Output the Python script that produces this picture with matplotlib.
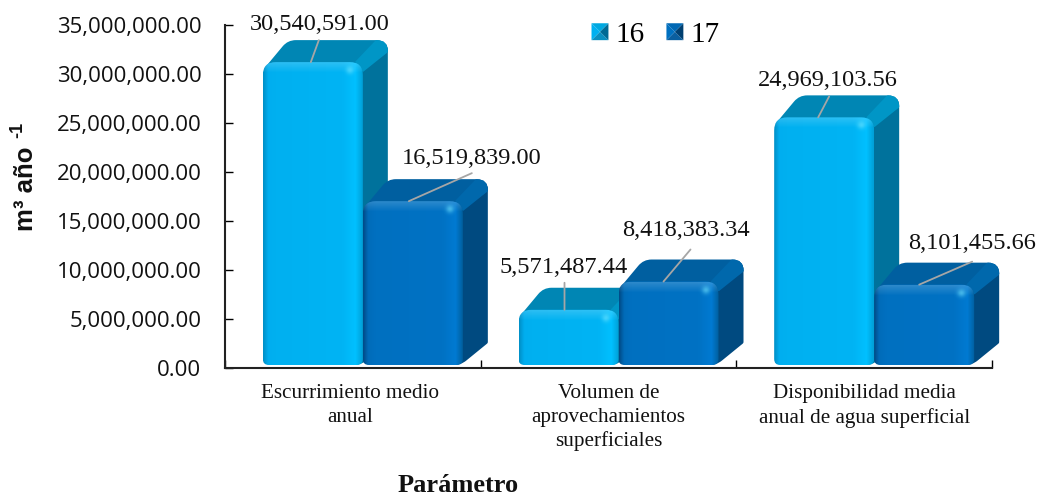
import numpy as np
import matplotlib
matplotlib.use("Agg")
import matplotlib.pyplot as plt
from matplotlib.colors import LinearSegmentedColormap
from matplotlib.legend_handler import HandlerBase
from matplotlib.patches import PathPatch, Patch, Polygon
from matplotlib.path import Path

# ========== data ==========
categories = ["Escurrimiento medio\nanual",
              "Volumen de\naprovechamientos\nsuperficiales",
              "Disponibilidad media\nanual de agua superficial"]
series_names = ["16", "17"]
values_16 = [30540591.00, 5571487.44, 24969103.56]
values_17 = [16519839.00, 8418383.34, 8101455.66]
yticks = np.arange(0, 35000001, 5000000)

# ========== styles ==========
W, H = 1040, 495
AX_L, AX_R, AX_T, AX_B = 225, 992, 25, 368
PX_X = 3 / (AX_R - AX_L)          # data units per pixel, x
PX_Y = 35000000 / (AX_B - AX_T)   # data units per pixel, y
DEPTH_X, DEPTH_Y = 25 * PX_X, 22 * PX_Y
BAR_W = 100 * PX_X
GROUP_OFF = 0.148
BASE = 3 * PX_Y
SCALE = 1.012

colors_16 = dict(front=["#0090c8", "#00aeef", "#00b0f0", "#00b4f4", "#00c0ff", "#00a0d8"],
                 top="#0086b4", side="#00729c", bevel="#0096c6")
colors_17 = dict(front=["#004c88", "#006cba", "#0070c0", "#0072c4", "#007ad2", "#00609f"],
                 top="#005fa0", side="#004a80", bevel="#0068ac")

plt.rcParams["font.family"] = ["Liberation Serif", "DejaVu Sans"]

fig = plt.figure(figsize=(W / 100, H / 100), dpi=100)
ax = fig.add_axes([AX_L / W, 1 - AX_B / H, (AX_R - AX_L) / W, (AX_B - AX_T) / H])
ax.set_xlim(0, 3)
ax.set_ylim(0, 35000000)


def rounded(points, radii):
    # closed path with corners rounded, radii in pixels
    verts, codes = [], []
    n = len(points)
    scale = np.array([PX_X, PX_Y])
    for i, (p, r) in enumerate(zip(points, radii)):
        p = np.array(p, float)
        ua = (np.array(points[i - 1], float) - p) / scale
        ub = (np.array(points[(i + 1) % n], float) - p) / scale
        ua = ua / np.hypot(*ua)
        ub = ub / np.hypot(*ub)
        verts += [p + ua * r * scale, p, p + ub * r * scale]
        codes += [Path.LINETO, Path.CURVE3, Path.CURVE3]
    codes[0] = Path.MOVETO
    verts.append(verts[0])
    codes.append(Path.CLOSEPOLY)
    return Path(verts, codes)


def draw_bar(x0, value, c, z):
    x1 = x0 + BAR_W
    top = value * SCALE + BASE
    bx, by = x1 + DEPTH_X, top + DEPTH_Y
    # side
    side = [(x1 - 6 * PX_X, BASE), (x1 - 6 * PX_X, top), (bx, by), (bx, BASE + DEPTH_Y), (x1 - 2 * PX_X, BASE)]
    ax.add_patch(PathPatch(rounded(side, [1, 1, 11, 1, 7]), fc=c["side"], ec="none", zorder=z, clip_on=False))
    # top face
    face = [(x0, top - 8 * PX_Y), (x0 + DEPTH_X, by), (bx, by), (bx, by - 12 * PX_Y), (x1, top - 8 * PX_Y)]
    ax.add_patch(PathPatch(rounded(face, [8, 8, 11, 1, 1]), fc=c["top"], ec="none", zorder=z + 0.1, clip_on=False))
    # bevel between top and side
    bevel = [(x1 - 8 * PX_X, top), (bx - 12 * PX_X, by), (bx, by), (bx, by - 12 * PX_Y), (x1, top - 10 * PX_Y)]
    ax.add_patch(PathPatch(rounded(bevel, [1, 1, 11, 1, 1]), fc=c["bevel"], ec="none", zorder=z + 0.2, clip_on=False))
    # front face, horizontal gradient clipped to a rounded box
    clip = PathPatch(rounded([(x0, BASE), (x0, top), (x1, top), (x1, BASE)], [6, 13, 13, 6]),
                     fc="none", ec="none", transform=ax.transData)
    ax.add_patch(clip)
    stops = [0, 0.05, 0.12, 0.8, 0.93, 1]
    cmap = LinearSegmentedColormap.from_list("f", list(zip(stops, c["front"])))
    im = ax.imshow(np.linspace(0, 1, 200).reshape(1, -1), cmap=cmap, aspect="auto",
                   extent=(x0, x1, BASE, top), zorder=z + 0.3)
    im.set_clip_path(clip)
    # lighter rim along the top of the front
    rim = np.zeros((40, 1, 4))
    rim[:, 0, :3] = 1
    rim[:, 0, 3] = np.linspace(0.18, 0, 40)
    im2 = ax.imshow(rim, aspect="auto", extent=(x0, x1, top - 11 * PX_Y, top), zorder=z + 0.4)
    im2.set_clip_path(clip)
    # highlight spot near the top right corner
    gx, gy = np.meshgrid(np.linspace(-1, 1, 30), np.linspace(-1, 1, 30))
    spot = np.zeros((30, 30, 4))
    spot[..., 0] = 0.45
    spot[..., 1] = 0.9
    spot[..., 2] = 1
    spot[..., 3] = 0.55 * np.exp(-(gx ** 2 + gy ** 2) * 5)
    sx, sy = x1 - 13 * PX_X, top - 8 * PX_Y
    im3 = ax.imshow(spot, aspect="auto", zorder=z + 0.5,
                    extent=(sx - 9 * PX_X, sx + 9 * PX_X, sy - 9 * PX_Y, sy + 9 * PX_Y))
    im3.set_clip_path(clip)


# drawing order: back to front inside each group
for i in range(len(categories)):
    x0 = i + GROUP_OFF
    draw_bar(x0, values_16[i], colors_16, 2 + i * 2)
    draw_bar(x0 + BAR_W, values_17[i], colors_17, 3 + i * 2)

ax.set_xlim(0, 3)
ax.set_ylim(0, 35000000)

# ========== labels with leader lines ==========
# (start along bar, line end dx/dy, text dx/dy) in pixels
leaders_16 = [(0.48, (8, 22), (9, 38)), (0.46, (0, 27), (-1, 42)), (0.44, (11, 21), (10, 37))]
leaders_17 = [(0.46, (63, 28), (63, 43)), (0.45, (27, 32), (22, 51)), (0.45, (53, 23), (53, 41))]

for i in range(len(categories)):
    x0 = i + GROUP_OFF
    for k, (vals, lead) in enumerate(((values_16, leaders_16), (values_17, leaders_17))):
        frac, end, txt = lead[i]
        x = x0 + BAR_W * k + BAR_W * frac
        y = vals[i] * SCALE + BASE
        ax.annotate("", xy=(x, y), xytext=end, textcoords="offset pixels",
                    arrowprops=dict(arrowstyle="-", color="#a6a6a6", lw=1.3, shrinkA=0, shrinkB=0),
                    zorder=20)
        ax.annotate(f"{vals[i]:,.2f}", xy=(x, y), xytext=txt, textcoords="offset pixels",
                    ha="center", va="center", fontsize=17.6, color="#111111", zorder=21)

# ========== axes ==========
for s in ("top", "right"):
    ax.spines[s].set_visible(False)
for s in ("left", "bottom"):
    ax.spines[s].set_linewidth(1.5)
    ax.spines[s].set_color("#222222")
    ax.spines[s].set_zorder(30)

ax.set_yticks(yticks)
ax.set_yticklabels([f"{v:,.2f}" for v in yticks], family="Open Sans", fontsize=16, color="#111111")
ax.tick_params(axis="y", direction="in", length=6, width=1, pad=17)
ax.set_xticks([0, 1, 2, 3])
ax.set_xticklabels([])
ax.tick_params(axis="x", which="major", direction="in", length=6, width=1)
ax.set_xticks([0.49, 1.5, 2.5], minor=True)
ax.set_xticklabels(categories, minor=True, fontsize=15.2, linespacing=1.33, color="#111111")
ax.tick_params(axis="x", which="minor", length=0, pad=11.5)

# y label in two pieces, the exponent is raised
fig.text(26 / W, 1 - 189 / H, "m³ año", rotation=90, family=["Liberation Sans", "DejaVu Sans"],
         fontweight="bold", ha="center", va="center", fontsize=18.5, color="#111111")
fig.text(18 / W, 1 - 130 / H, "-1", rotation=90, family=["Liberation Sans", "DejaVu Sans"],
         fontweight="bold", ha="center", va="center", fontsize=13, color="#111111")
fig.text(458 / W, 1 - 485 / H, "Parámetro", ha="center", va="center", fontsize=19,
         fontweight="bold", color="#111111")


# ========== legend ==========
class PyramidHandler(HandlerBase):
    def create_artists(self, legend, orig, xd, yd, w, h, fontsize, trans):
        c = orig.shade
        s = min(w, h)
        x0, y0 = -xd + (w - s) / 2, -yd + (h - s) / 2
        cx, cy = x0 + s / 2, y0 + s / 2
        corners = [(x0, y0), (x0 + s, y0), (x0 + s, y0 + s), (x0, y0 + s)]
        return [Polygon([corners[j], corners[(j + 1) % 4], (cx, cy)], closed=True,
                        fc=c[j], ec="none", transform=trans) for j in range(4)]


# triangles: bottom, right, top, left
h16 = Patch(label=series_names[0])
h16.shade = ["#0a8fc0", "#006a94", "#00a8e0", "#00b0f0"]
h17 = Patch(label=series_names[1])
h17.shade = ["#0a5fa0", "#003f70", "#0068b4", "#0070c0"]
ax.legend(handles=[h16, h17], handler_map={Patch: PyramidHandler()}, ncol=2, frameon=False,
          loc="center", bbox_to_anchor=((655.5 - AX_L) / (AX_R - AX_L), (AX_B - 35) / (AX_B - AX_T)),
          fontsize=21, handlelength=0.58, handleheight=0.58, handletextpad=0.24,
          columnspacing=0.75, borderpad=0, borderaxespad=0)

fig.savefig("out.png", dpi=100)
